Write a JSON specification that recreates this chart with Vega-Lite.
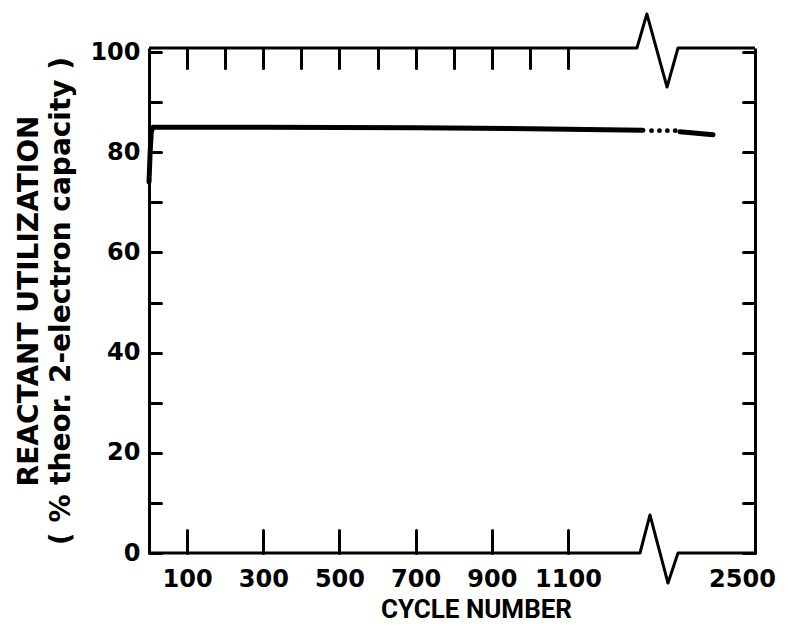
{
  "$schema": "https://vega.github.io/schema/vega-lite/v6.json",
  "width": 606,
  "height": 505,
  "autosize": "none",
  "padding": {"left": 149, "top": 48, "right": 49, "bottom": 77},
  "background": "white",
  "config": {
    "view": {"stroke": null},
    "axis": {
      "grid": false,
      "labelFont": "DejaVu Sans",
      "labelFontWeight": "bold",
      "labelColor": "black",
      "labelFontSize": 24,
      "titleFont": "DejaVu Sans",
      "titleFontWeight": "bold",
      "titleColor": "black",
      "tickColor": "black",
      "domainColor": "black",
      "tickCap": "round"
    }
  },
  "datasets": {
    "main": [
      {"cycle": 0, "value": 74},
      {"cycle": 3, "value": 80},
      {"cycle": 6, "value": 84},
      {"cycle": 10, "value": 85},
      {"cycle": 20, "value": 85},
      {"cycle": 300, "value": 85},
      {"cycle": 700, "value": 84.9},
      {"cycle": 1000, "value": 84.7},
      {"cycle": 1297, "value": 84.4}
    ],
    "dots": [
      {"cycle": 1355, "value": 84.3},
      {"cycle": 1455, "value": 84.3},
      {"cycle": 1555, "value": 84.3},
      {"cycle": 1655, "value": 84.3}
    ],
    "tail": [
      {"cycle": 1715, "value": 84.1},
      {"cycle": 2133, "value": 83.5}
    ],
    "frame": [
      {"part": "top", "i": 0, "cx": 0, "cy": 100.8},
      {"part": "top", "i": 1, "cx": 1281, "cy": 100.8},
      {"part": "top", "i": 2, "cx": 1307, "cy": 107.6},
      {"part": "top", "i": 3, "cx": 1551, "cy": 93.0},
      {"part": "top", "i": 4, "cx": 1690, "cy": 100.8},
      {"part": "top", "i": 5, "cx": 2665, "cy": 100.8},
      {"part": "bottom", "i": 0, "cx": 0, "cy": 0},
      {"part": "bottom", "i": 1, "cx": 1289, "cy": 0},
      {"part": "bottom", "i": 2, "cx": 1335, "cy": 7.6},
      {"part": "bottom", "i": 3, "cx": 1563, "cy": -6.0},
      {"part": "bottom", "i": 4, "cx": 1690, "cy": 0},
      {"part": "bottom", "i": 5, "cx": 2665, "cy": 0}
    ]
  },
  "layer": [
    {
      "data": {"name": "frame"},
      "mark": {"type": "line", "color": "black", "strokeWidth": 3, "strokeJoin": "round"},
      "encoding": {
        "x": {
          "field": "cx", "type": "quantitative",
          "scale": {"domain": [0, 1310, 2665], "range": [0, 499, 606], "nice": false, "zero": false},
          "axis": {
            "orient": "top",
            "values": [100, 200, 300, 400, 500, 600, 700, 800, 900, 1000, 1100],
            "labels": false,
            "domain": false,
            "tickSize": -20,
            "tickWidth": 3,
            "title": null
          }
        },
        "y": {
          "field": "cy", "type": "quantitative",
          "scale": {"domain": [0, 100.8], "nice": false, "zero": false},
          "axis": {
            "orient": "left",
            "values": [0, 10, 20, 30, 40, 50, 60, 70, 80, 90, 100],
            "labelExpr": "datum.value % 20 === 0 ? datum.label : ''",
            "tickSize": -12,
            "tickWidth": 3,
            "domainWidth": 3,
            "labelPadding": 21,
            "title": ["REACTANT UTILIZATION", "( % theor. 2-electron capacity )"],
            "titleFontSize": 28,
            "titleLineHeight": 32,
            "titlePadding": 14
          }
        },
        "detail": {"field": "part"},
        "order": {"field": "i"}
      }
    },
    {
      "data": {"name": "main"},
      "mark": {"type": "line", "color": "black", "strokeWidth": 5, "strokeCap": "round", "strokeJoin": "round"},
      "encoding": {
        "x": {
          "field": "cycle", "type": "quantitative",
          "scale": {"domain": [0, 1310, 2665], "range": [0, 499, 606], "nice": false, "zero": false},
          "axis": {
            "orient": "bottom",
            "values": [100, 300, 500, 700, 900, 1100, 2500],
            "format": "d",
            "domain": false,
            "tickSize": -23,
            "tickWidth": 3,
            "tickOpacity": {"condition": {"test": "datum.value == 2500", "value": 0}, "value": 1},
            "labelPadding": 37,
            "title": "CYCLE NUMBER",
            "titleFont": "Roboto",
            "titleFontSize": 26,
            "titleX": 327,
            "titlePadding": 5
          }
        },
        "y": {
          "field": "value", "type": "quantitative",
          "scale": {"domain": [0, 100.8], "nice": false, "zero": false},
          "axis": {
            "orient": "right",
            "values": [0, 10, 20, 30, 40, 50, 60, 70, 80, 90, 100],
            "labels": false,
            "tickSize": -12,
            "tickWidth": 3,
            "domainWidth": 3,
            "title": null
          }
        }
      }
    },
    {
      "data": {"name": "dots"},
      "mark": {"type": "circle", "color": "black", "size": 24, "opacity": 1},
      "encoding": {
        "x": {"field": "cycle", "type": "quantitative", "axis": null},
        "y": {"field": "value", "type": "quantitative", "axis": null}
      }
    },
    {
      "data": {"name": "tail"},
      "mark": {"type": "line", "color": "black", "strokeWidth": 5, "strokeCap": "round"},
      "encoding": {
        "x": {"field": "cycle", "type": "quantitative", "axis": null},
        "y": {"field": "value", "type": "quantitative", "axis": null}
      }
    }
  ],
  "resolve": {"axis": {"x": "independent", "y": "independent"}}
}
